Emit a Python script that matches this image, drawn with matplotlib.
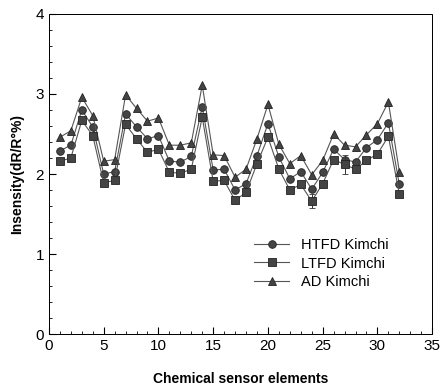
import numpy as np
import matplotlib.pyplot as plt
from matplotlib.lines import Line2D

plt.rcParams['font.family'] = ['Liberation Sans', 'DejaVu Sans']

# sensor element index
elements = list(range(1, 33))

htfd = [2.29, 2.36, 2.80, 2.59, 2.00, 2.03, 2.75, 2.59, 2.44, 2.48,
        2.16, 2.15, 2.22, 2.84, 2.05, 2.06, 1.80, 1.88, 2.23, 2.63,
        2.21, 1.94, 2.03, 1.81, 2.02, 2.31, 2.18, 2.15, 2.33, 2.43,
        2.64, 1.87]
ltfd = [2.16, 2.20, 2.67, 2.48, 1.89, 1.92, 2.62, 2.44, 2.27, 2.31,
        2.02, 2.01, 2.06, 2.71, 1.91, 1.92, 1.67, 1.77, 2.13, 2.46,
        2.06, 1.80, 1.87, 1.66, 1.88, 2.18, 2.12, 2.06, 2.17, 2.25,
        2.47, 1.75]
ad = [2.46, 2.54, 2.96, 2.73, 2.16, 2.18, 2.99, 2.82, 2.66, 2.70,
      2.36, 2.36, 2.39, 3.11, 2.24, 2.23, 1.96, 2.06, 2.44, 2.87,
      2.37, 2.13, 2.23, 1.99, 2.17, 2.50, 2.36, 2.34, 2.49, 2.63,
      2.90, 2.03]
ltfd_err = [0.02] * 32
ltfd_err[23] = 0.09
ltfd_err[26] = 0.12

fig = plt.figure(figsize=(4.41, 3.88), dpi=100)
ax = fig.add_axes([0.111, 0.139, 0.869, 0.825])

kw = dict(color='#555555', lw=0.8, markersize=5.5, markeredgecolor='#222222',
          markerfacecolor='#444444', markeredgewidth=0.6)
ax.plot(elements, htfd, marker='o', **kw)
ax.errorbar(elements, ltfd, yerr=ltfd_err, marker='s',
            ecolor='#333333', elinewidth=0.7, capsize=2, **kw)
ax.plot(elements, ad, marker='^', **kw)

handles = [Line2D([], [], marker='o', **kw),
           Line2D([], [], marker='s', **kw),
           Line2D([], [], marker='^', **kw)]
labels = ['HTFD Kimchi', 'LTFD Kimchi', 'AD Kimchi']

ax.set_xlim(0, 35)
ax.set_ylim(0, 4)
ax.set_xticks(range(0, 36, 5))
ax.set_xticks(range(0, 36, 1), minor=True)
ax.set_yticks(range(0, 5))
ax.set_yticks(np.arange(0, 4.01, 0.2), minor=True)
ax.tick_params(direction='in', which='both', top=False, right=False, labelsize=11)
ax.tick_params(which='major', length=5)
ax.tick_params(which='minor', length=2.5)
for s in ax.spines.values():
    s.set_linewidth(0.6)
    s.set_linestyle((0, (1, 0.5)))

ax.set_xlabel('Chemical sensor elements', fontsize=10, fontweight='bold', labelpad=14)
ax.set_ylabel('Insensity(dR/R°%)', fontsize=10, fontweight='bold', labelpad=8)

ax.legend(handles, labels, loc='lower right', bbox_to_anchor=(0.92, 0.1),
          frameon=False, fontsize=10.5, handlelength=2.4, labelspacing=0.3)

fig.savefig('out.png', dpi=100)
